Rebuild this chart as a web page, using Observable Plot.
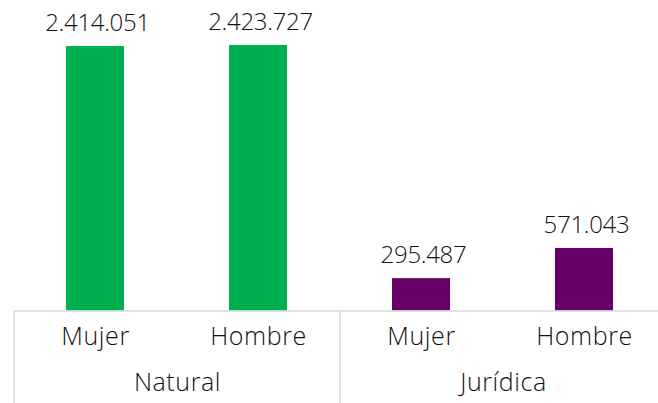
<!DOCTYPE html>
<html>
<head>
<meta charset="utf-8">
<script src="https://cdn.jsdelivr.net/npm/d3@7"></script>
<script src="https://cdn.jsdelivr.net/npm/@observablehq/plot@0.6"></script>
<style>
  html, body { margin: 0; padding: 0; background: #fff; overflow: hidden; }
  #chart svg { display: block; }
  .cat-label text { letter-spacing: 0.6px; }
  .val-label text { letter-spacing: -0.3px; }
</style>
</head>
<body>
<div id="chart"></div>
<script>
const groups = ["Natural", "Jurídica"];
const sexes = ["Mujer", "Hombre"];
const groupOf = ["Natural", "Natural", "Jurídica", "Jurídica"];
const sexOf = ["Mujer", "Hombre", "Mujer", "Hombre"];
const values = [2414051, 2423727, 295487, 571043];
const groupColors = {"Natural": "#00b050", "Jurídica": "#660066"};

const data = values.map((v, i) => ({group: groupOf[i], sex: sexOf[i], value: v}));
const fmt = d3.formatLocale({thousands: ".", grouping: [3], decimal: ","}).format(",d");

const font = "Open Sans, sans-serif";
const W = 658, H = 403;

const plot = Plot.plot({
  width: W,
  height: H,
  margin: 0,
  style: {fontFamily: font, fontSize: "23px", fontWeight: 300, color: "#111", background: "#fff"},
  fx: {domain: groups, range: [14, 666], padding: 0, axis: null},
  x: {domain: sexes, paddingInner: 0.644, paddingOuter: 0.322, align: 0.5, axis: null},
  y: {domain: [0, d3.max(values)], range: [310.5, 45], axis: null},
  marks: [
    Plot.barY(data, {fx: "group", x: "sex", y: "value", fill: d => groupColors[d.group]}),
    Plot.ruleY([0], {stroke: "#d9d9d9", strokeWidth: 1.5}),
    Plot.text(data, {fx: "group", x: "sex", y: "value", text: d => fmt(d.value), dy: -23, dx: 2, fill: "#111", fontSize: 24, fontWeight: 300, className: "val-label"}),
    Plot.text(data, {fx: "group", x: "sex", text: "sex", frameAnchor: "bottom", dy: -59, fill: "#111", fontSize: 25, fontWeight: 300, className: "cat-label"}),
    Plot.text(groups, {fx: d => d, text: d => d, frameAnchor: "bottom", dy: -13, fill: "#111", fontSize: 25, fontWeight: 300, className: "cat-label"})
  ]
});

// group separator lines below the baseline, positioned from the fx and y scales
const fxs = plot.scale("fx");
const ys = plot.scale("y");
const svg = d3.select(plot.tagName === "svg" ? plot : plot.querySelector("svg"));
const y0 = ys.apply(0);
svg.append("g").selectAll("line").data(groups).join("line")
  .attr("x1", g => fxs.apply(g)).attr("x2", g => fxs.apply(g))
  .attr("y1", y0).attr("y2", H)
  .attr("stroke", "#d9d9d9").attr("stroke-width", 1.5);

document.getElementById("chart").append(plot);
</script>
</body>
</html>
